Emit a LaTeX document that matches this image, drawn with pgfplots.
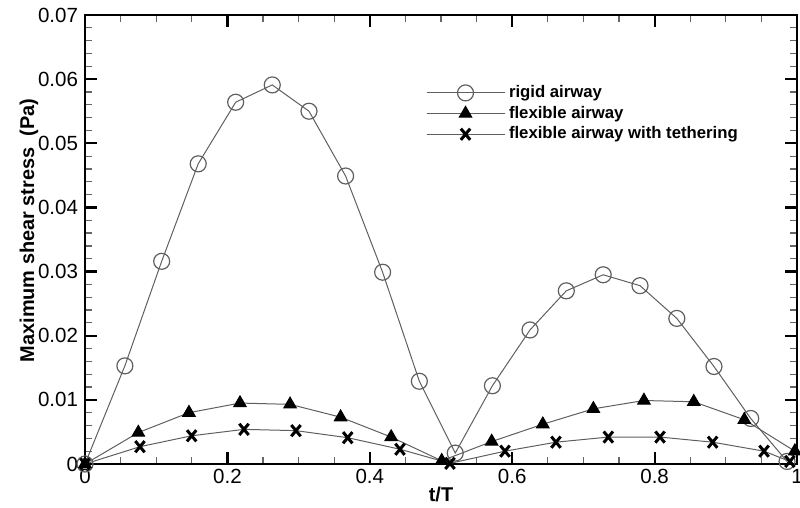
\documentclass[border=0pt]{standalone}
\usepackage{pgfplots}
\pgfplotsset{compat=1.18}
\usepackage{fontspec}
\setmainfont{Liberation Sans}
\definecolor{linegray}{RGB}{95,95,95}

\begin{document}
\begin{tikzpicture}
\begin{axis}[
  scale only axis,
  width=356bp, height=224.5bp,
  xmin=0, xmax=1, ymin=0, ymax=0.07,
  scaled x ticks=false, scaled y ticks=false,
  xtick={0,0.2,0.4,0.6,0.8,1},
  xticklabels={0,0.2,0.4,0.6,0.8,1},
  ytick={0,0.01,0.02,0.03,0.04,0.05,0.06,0.07},
  yticklabels={0,0.01,0.02,0.03,0.04,0.05,0.06,0.07},
  minor x tick num=3, minor y tick num=4,
  tick align=inside, tick pos=both,
  xticklabel pos=bottom, yticklabel pos=left,
  major tick length=6bp, minor tick length=3.5bp,
  major tick style={line width=1.1bp, black},
  minor tick style={line width=0.6bp, black!60},
  axis line style={line width=1.4bp},
  tick label style={font=\fontsize{10.3}{12}\selectfont},
  xticklabel style={yshift=1bp},
  xlabel={\textbf{t/T}}, ylabel={\textbf{Maximum shear stress\ \ (Pa)}},
  label style={font=\fontsize{10}{12}\selectfont},
  xlabel style={yshift=5bp},
  ylabel style={yshift=-7bp, xshift=4.5bp},
  clip=false,
  legend style={draw=none, fill=none, at={(0.47,0.862)}, anchor=north west,
    font=\fontsize{8.4}{10}\selectfont\bfseries, row sep=-1.2bp,
    /tikz/every even column/.append style={column sep=4bp}},
  legend cell align=left,
  legend image code/.code={
    \draw[mark repeat=2, mark phase=2] plot coordinates {(0bp,0bp) (19.5bp,0bp) (39bp,0bp)};
  },
  every axis plot/.append style={line width=0.5bp, color=linegray},
]
\addplot[mark=o, mark size=4bp, mark options={draw=linegray, line width=0.6bp}] coordinates {
  (0,0) (0.056,0.0153) (0.1077,0.0316) (0.159,0.0468) (0.2116,0.0564)
  (0.263,0.0591) (0.3146,0.0550) (0.366,0.0449) (0.418,0.0299) (0.4696,0.0129)
  (0.520,0.0017) (0.5722,0.0122) (0.625,0.0209) (0.676,0.0270) (0.7278,0.0295)
  (0.7795,0.0278) (0.8312,0.0227) (0.8834,0.0152) (0.935,0.0071) (0.986,0.0004)
};
\addlegendentry{rigid airway}
\addplot[mark=triangle*, mark size=3.6bp, mark options={draw=black, fill=black}] coordinates {
  (0,0) (0.0749,0.0049) (0.146,0.0080) (0.2177,0.0095) (0.288,0.0093)
  (0.359,0.0073) (0.430,0.0042) (0.501,0.0005) (0.5712,0.0035) (0.643,0.0062)
  (0.714,0.0086) (0.785,0.0099) (0.855,0.0097) (0.926,0.0069) (0.997,0.0020)
};
\addlegendentry{flexible airway}
\addplot[mark=x, mark size=3.3bp, mark options={draw=black, line width=1.5bp, yscale=1.2}] coordinates {
  (0,0) (0.0772,0.0027) (0.1498,0.0044) (0.2233,0.0054) (0.2963,0.0052)
  (0.369,0.0041) (0.4424,0.0023) (0.5126,0.0001) (0.5899,0.0020) (0.6615,0.0034)
  (0.735,0.0042) (0.8076,0.0042) (0.8815,0.0034) (0.9537,0.0020) (0.99,0.0004)
};
\addlegendentry{flexible airway with tethering}
\end{axis}
\pgfresetboundingbox
\path ([shift={(-42.5bp,-22bp)}]current axis.south west) rectangle ([shift={(1.5bp,7.5bp)}]current axis.north east);
\end{tikzpicture}
\end{document}
